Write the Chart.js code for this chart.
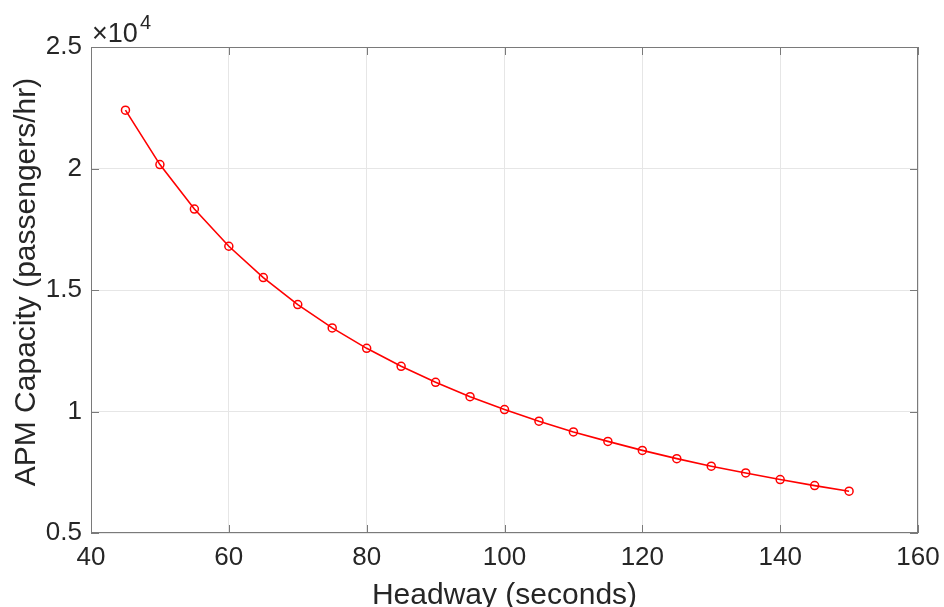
<!DOCTYPE html>
<html>
<head>
<meta charset="utf-8">
<script src="https://cdn.jsdelivr.net/npm/chart.js@4"></script>
<style>
  html, body { margin: 0; padding: 0; background: #fff; }
  #wrap { width: 944px; height: 607px; }
</style>
</head>
<body>
<div id="wrap"><canvas id="myChart" width="944" height="607"></canvas></div>
<script>
// headway in seconds
const headway = [45, 50, 55, 60, 65, 70, 75, 80, 85, 90, 95, 100, 105, 110, 115, 120, 125, 130, 135, 140, 145, 150];
// APM capacity in passengers/hr
const capacity = [22400, 20160, 18330, 16800, 15510, 14400, 13440, 12600, 11860, 11200, 10610, 10080,
  9600, 9160, 8770, 8400, 8060, 7750, 7470, 7200, 6950, 6720];
const xTicks = [40, 60, 80, 100, 120, 140, 160];
const yTicks = [5000, 10000, 15000, 20000, 25000];

const FONT = "'Liberation Sans', Arial, Helvetica, sans-serif";
const TXT = "#262626";

const frame = {
  id: "frame",
  afterDraw(c) {
    const ctx = c.ctx, a = c.chartArea;
    const xs = c.scales.x, ys = c.scales.y;
    ctx.save();
    ctx.strokeStyle = "#7a7a7a";
    ctx.lineWidth = 1;
    ctx.strokeRect(a.left + 0.5, a.top + 0.5, a.right - a.left - 1, a.bottom - a.top - 1);
    // inward ticks
    ctx.beginPath();
    xTicks.forEach(v => {
      const p = Math.round(xs.getPixelForValue(v)) + 0.5;
      ctx.moveTo(p, a.bottom); ctx.lineTo(p, a.bottom - 8);
      ctx.moveTo(p, a.top); ctx.lineTo(p, a.top + 8);
    });
    yTicks.forEach(v => {
      const p = Math.round(ys.getPixelForValue(v)) + 0.5;
      ctx.moveTo(a.left, p); ctx.lineTo(a.left + 8, p);
      ctx.moveTo(a.right, p); ctx.lineTo(a.right - 8, p);
    });
    ctx.stroke();

    ctx.fillStyle = TXT;
    // exponent label
    ctx.font = "27px " + FONT;
    ctx.textAlign = "left";
    ctx.textBaseline = "alphabetic";
    ctx.fillText("\u00d710", 92, 42);
    ctx.font = "20px " + FONT;
    ctx.fillText("4", 140, 29);

    // axis titles
    ctx.font = "30px " + FONT;
    ctx.textAlign = "center";
    ctx.fillText("Headway (seconds)", (a.left + a.right) / 2, 604);
    ctx.textBaseline = "middle";
    ctx.translate(27, 282);
    ctx.rotate(-Math.PI / 2);
    ctx.fillText("APM Capacity (passengers/hr)", 0, 0);
    ctx.restore();
  }
};

new Chart(document.getElementById("myChart").getContext("2d"), {
  type: "line",
  data: {
    datasets: [
      {
        data: headway.map((h, i) => ({ x: h, y: capacity[i] })),
        borderColor: "#ff0000",
        borderWidth: 1.6,
        pointRadius: 4,
        pointBorderWidth: 1.5,
        pointBorderColor: "#ff0000",
        pointBackgroundColor: "rgba(0,0,0,0)",
        tension: 0,
        fill: false,
      },
    ],
  },
  options: {
    responsive: false,
    animation: false,
    layout: { padding: { top: 47, right: 26, left: 0, bottom: 0 } },
    plugins: { legend: { display: false }, tooltip: { enabled: false } },
    scales: {
      x: {
        type: "linear",
        min: 40,
        max: 160,
        afterFit(s) { s.height = 74; s.paddingLeft = 0; s.paddingRight = 0; },
        afterBuildTicks(s) { s.ticks = xTicks.map(v => ({ value: v })); },
        grid: { color: "#e6e6e6", drawTicks: false },
        border: { display: false },
        ticks: { color: TXT, padding: 9, font: { size: 26, family: FONT } },
      },
      y: {
        min: 5000,
        max: 25000,
        afterFit(s) { s.width = 91; s.paddingTop = 0; s.paddingBottom = 0; },
        afterBuildTicks(s) { s.ticks = yTicks.map(v => ({ value: v })); },
        grid: { color: "#e6e6e6", drawTicks: false },
        border: { display: false },
        ticks: {
          color: TXT,
          padding: 9,
          font: { size: 26, family: FONT },
          callback: v => String(v / 10000),
        },
      },
    },
  },
  plugins: [frame],
});
</script>
</body>
</html>
